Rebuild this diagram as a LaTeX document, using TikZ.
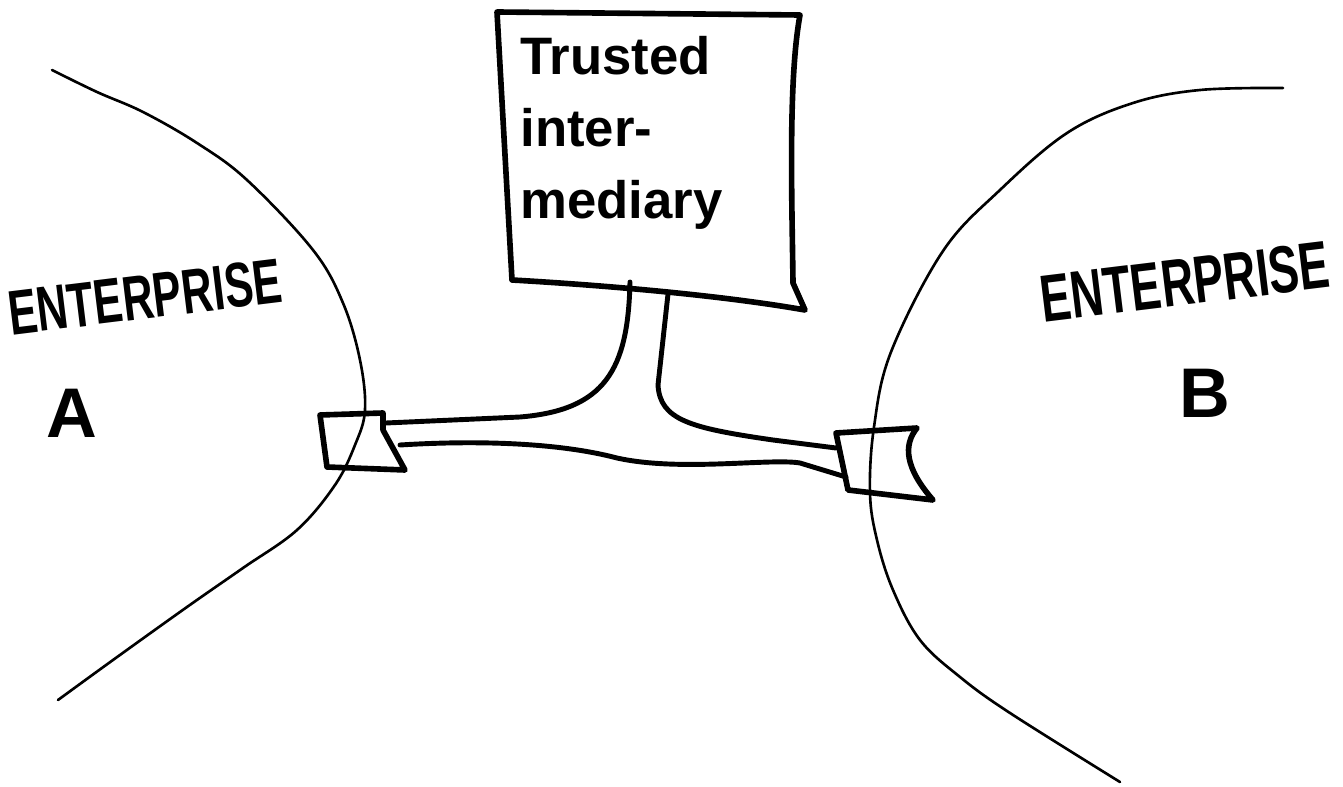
\documentclass[tikz,border=0pt]{standalone}
\usepackage{fontspec}
\setmainfont{Liberation Sans}
\newfontfamily\handfontA[FakeStretch=0.68]{Liberation Sans}
\newfontfamily\handfontB[FakeStretch=0.68]{Liberation Sans}
\usetikzlibrary{calc}
\definecolor{InkBlack}{RGB}{0,0,0}
\tikzset{
  %% 粗笔画：中介方框与网关
  boxline/.style={draw=InkBlack,line width=3.2pt,
                  line join=round,line cap=round},
  %% 管道
  pipeline/.style={draw=InkBlack,line width=2.8pt,
                   line join=round,line cap=round},
  %% 企业边界
  regionline/.style={draw=InkBlack,line width=1.5pt,line cap=round},
  %% 手写文字
  handtext/.style={font=\fontsize{40}{44}\selectfont\bfseries,
                   inner sep=0pt,text=InkBlack},
  enttext/.style={font=\fontsize{36}{40}\selectfont\bfseries,
                  inner sep=0pt,text=InkBlack},
  boxtext/.style={font=\fontsize{30}{41}\selectfont\bfseries,
                  inner sep=0pt,align=left,text=InkBlack},
}
\begin{document}
\begin{tikzpicture}[x=0.02cm,y=-0.02cm]
    \useasboundingbox (0,0) rectangle (1343,787);

    %% ── 企业边界曲线 ──────────────────────────────
    \draw[regionline] plot[smooth,tension=0.6] coordinates {
      (52,70) (97,92) (143,112) (197,143) (247,180) (313,250)
      (343,303) (360,360) (365,410) (355,445) (335,485)
      (297,530) (243,568) (187,607) (113,660) (58,700)};
    \draw[regionline] plot[smooth,tension=0.6] coordinates {
      (1283,88) (1200,90) (1133,103) (1067,133) (1000,190)
      (943,251) (891,352) (874,427) (870,493) (877,540)
      (893,590) (920,640) (960,677) (1010,713) (1120,782)};

    %% ── 可信中介方框 ──────────────────────────────
    \coordinate (tiNW) at (497,12);
    \coordinate (tiNE) at (800,15);
    \coordinate (tiSE) at (805,310);
    \coordinate (tiSW) at (512,280);
    \draw[boxline] (tiNW) -- (tiNE)
      .. controls (788,80) and (792,200) .. (793,283) -- (tiSE)
      .. controls (720,295) and (600,285) .. (tiSW) -- cycle;
    \node[boxtext,anchor=north west] (ti) at (520,36)
      {Trusted\\inter-\\mediary};

    %% ── 网关 A / B ────────────────────────────────
    \coordinate (gA1) at (320,415);
    \coordinate (gA2) at (383,413);
    \coordinate (gA3) at (405,470);
    \coordinate (gA4) at (327,467);
    \draw[boxline] (gA1) -- (gA2) -- (383,430) -- (gA3) -- (gA4) -- cycle;

    \coordinate (gB1) at (836,433);
    \coordinate (gB2) at (917,428);
    \coordinate (gB3) at (933,500);
    \coordinate (gB4) at (848,490);
    \draw[boxline] (gB1) -- (gB2)
      .. controls (903,445) and (905,468) .. (gB3) -- (gB4) -- cycle;

    %% ── 管道：中介 → 网关 ─────────────────────────
    \coordinate (tiL) at (630,282);
    \coordinate (tiR) at (668,294);
    \coordinate (gAu) at (386,423);
    \coordinate (gAl) at (400,445);
    \coordinate (gBu) at (836,448);
    \coordinate (gBl) at (846,477);
    \draw[pipeline] (tiL) .. controls (628,370) and (605,410) .. (520,417)
                    -- (gAu);
    \draw[pipeline] (tiR) -- (658,385)
                    .. controls (660,420) and (690,428) .. (773,440)
                    -- (gBu);
    \draw[pipeline] (gAl) .. controls (480,440) and (560,443) .. (617,458)
                    .. controls (680,472) and (770,458) .. (800,463)
                    -- (gBl);

    %% ── 企业标签 ──────────────────────────────────
    \node[enttext,rotate=7] (entA) at (145,297) {\handfontA ENTERPRISE};
    \node[handtext] (labA) at (72,413) {A};
    \node[enttext,font=\fontsize{38}{42}\selectfont\bfseries,rotate=7]
      (entB) at (1185,282) {\handfontB ENTERPRISE};
    \node[handtext] (labB) at (1205,393) {B};
\end{tikzpicture}
\end{document}
